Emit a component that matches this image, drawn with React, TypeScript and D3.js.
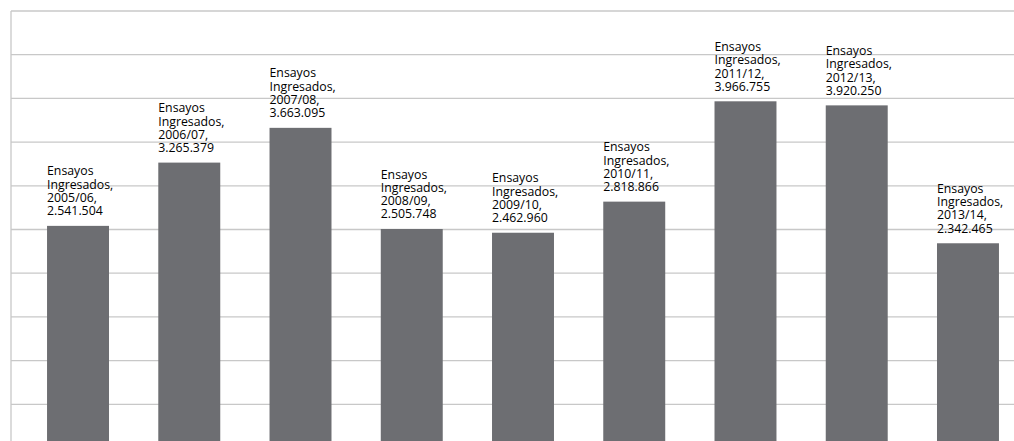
import React from "react";
import * as d3 from "d3";

const categories = ["2005/06", "2006/07", "2007/08", "2008/09", "2009/10", "2010/11", "2011/12", "2012/13", "2013/14"];
const values = [2541504, 3265379, 3663095, 2505748, 2462960, 2818866, 3966755, 3920250, 2342465];
const valueLabels = ["2.541.504", "3.265.379", "3.663.095", "2.505.748", "2.462.960", "2.818.866", "3.966.755", "3.920.250", "2.342.465"];
const seriesName = "Ensayos Ingresados";
const yTicks = [0, 500000, 1000000, 1500000, 2000000, 2500000, 3000000, 3500000, 4000000, 4500000, 5000000];

const W = 1014;
const H = 441;

export default function App() {
  const y = d3.scaleLinear().domain([0, 5000000]).range([448, 11]);
  const x = d3
    .scaleBand<string>()
    .domain(categories)
    .range([22.4, 1023.6])
    .paddingInner(0.443)
    .paddingOuter(0.2215);
  const lineH = 13.3;
  return (
    <svg
      width={W}
      height={H}
      style={{ position: "fixed", left: 0, top: 0, background: "#fff" }}
      fontFamily="'Open Sans', sans-serif"
    >
      <rect x={0} y={0} width={W} height={H} fill="#fff" />
      {yTicks.map((t) => (
        <line key={t} x1={11} x2={W} y1={y(t)} y2={y(t)} stroke="#c8c8c8" strokeWidth={1.3} />
      ))}
      <line x1={11} x2={11} y1={y(5000000)} y2={H} stroke="#c8c8c8" strokeWidth={1.3} />
      {categories.map((c, i) => (
        <rect key={c} x={x(c)} y={y(values[i])} width={x.bandwidth()} height={y(0) - y(values[i])} fill="#6d6e72" />
      ))}
      {categories.map((c, i) => {
        const base = y(values[i]) - 10.5;
        const lines = ["Ensayos", "Ingresados,", c + ",", valueLabels[i]];
        return (
          <text key={"l" + c} x={x(c)} fontSize={12.3} fill="#000">
            {lines.map((l, k) => (
              <tspan key={k} x={x(c)} y={base - (3 - k) * lineH}>
                {l}
              </tspan>
            ))}
          </text>
        );
      })}
    </svg>
  );
}
